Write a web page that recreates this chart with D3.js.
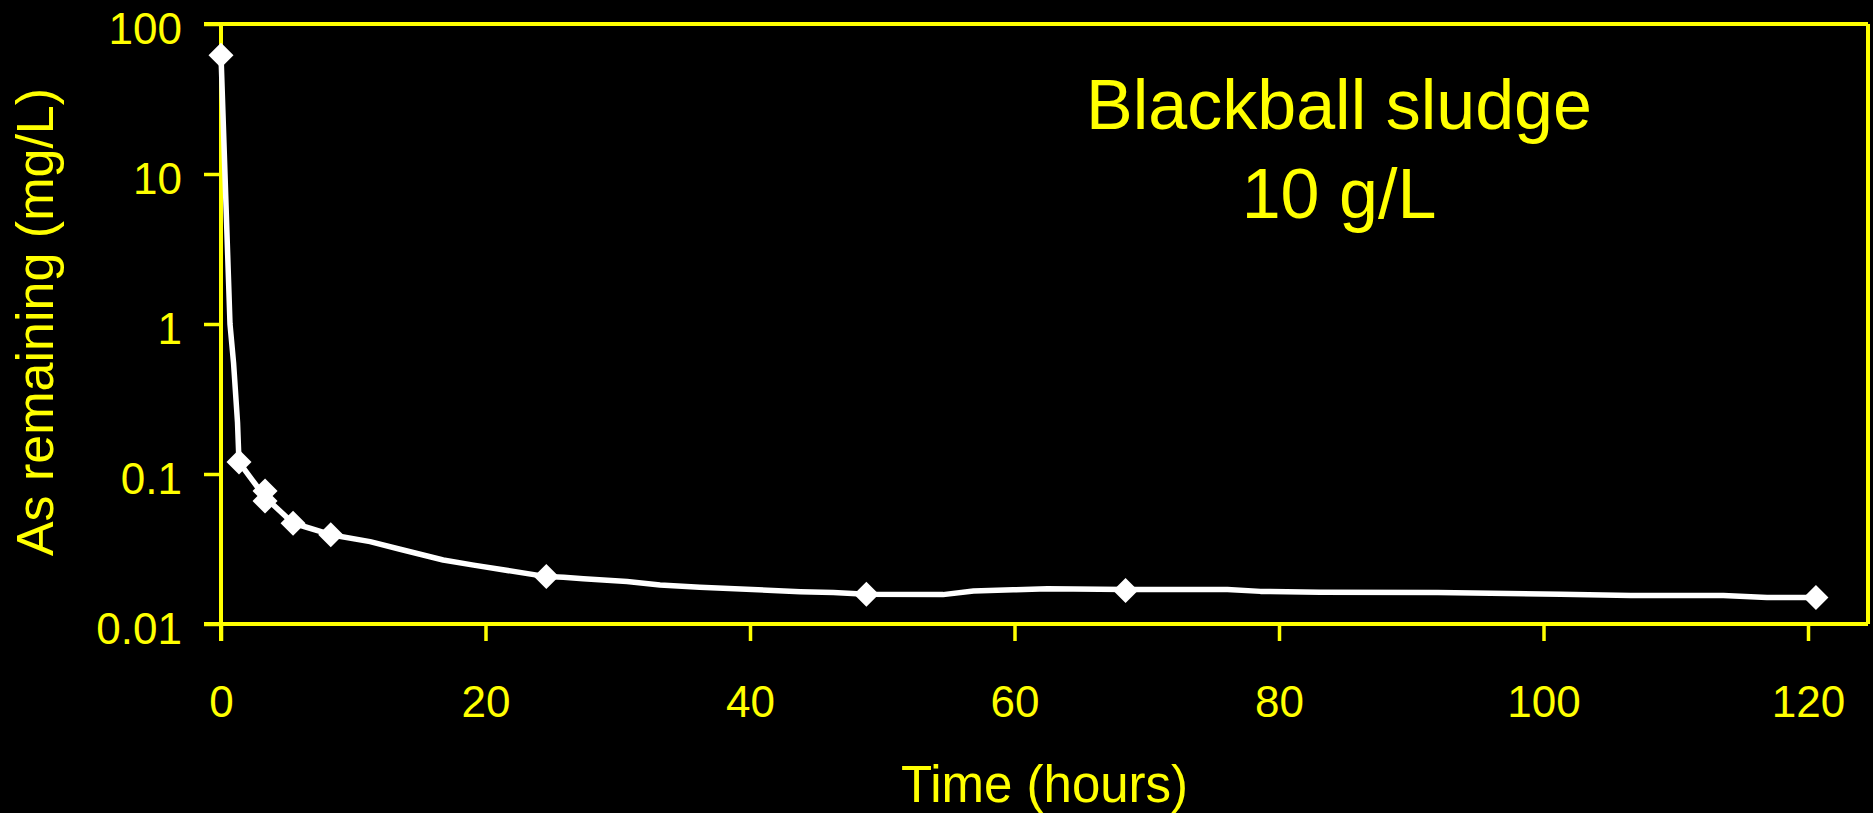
<!DOCTYPE html>
<html>
<head>
<meta charset="utf-8">
<script src="https://cdn.jsdelivr.net/npm/d3@7"></script>
<style>
  html, body { margin: 0; padding: 0; background: #000; }
  svg { display: block; }
  text { font-family: "Liberation Sans", Arial, sans-serif; fill: #ffff00; }
</style>
</head>
<body>
<svg id="chart" width="1873" height="813"></svg>
<script>
// Axis ticks
const hourTicks = [0, 20, 40, 60, 80, 100, 120];
const concTicks = [0.01, 0.1, 1, 10, 100];
const concTickLabels = ["0.01", "0.1", "1", "10", "100"];

// Measured samples (hours, mg/L)
const sampleHours = [0, 1.36, 3.33, 3.33, 5.45, 8.3, 24.6, 48.8, 68.4, 120.6];
const sampleConc  = [62, 0.12, 0.077, 0.066, 0.047, 0.0394, 0.0207, 0.0158, 0.0167, 0.0150];

// Fitted curve through the samples (hours, mg/L)
const curveHours = [0, 0.68, 0.95, 1.25, 1.36, 3.33, 5.45, 6.35, 8.3, 11.27, 13.54, 16.8, 19.1,
  24.6, 25.9, 27.4, 30.7, 33.2, 36.2, 43.8, 46.3, 48.8, 54.6, 56.9, 59.9, 62.5, 68.4,
  76.1, 78.6, 83.1, 92.0, 101.3, 106.6, 113.6, 116.9, 120.6];
const curveConc = [62, 1.0, 0.55, 0.22, 0.12, 0.070, 0.047, 0.0445, 0.0394, 0.0354, 0.0315, 0.0267, 0.0247,
  0.0207, 0.0205, 0.0200, 0.0192, 0.0182, 0.0176, 0.0164, 0.0162, 0.0158, 0.0157, 0.0166, 0.0169, 0.0172, 0.0170,
  0.0170, 0.0165, 0.0163, 0.0162, 0.0158, 0.0155, 0.0155, 0.0150, 0.0150];

const titleLines = ["Blackball sludge", "10 g/L"];

const YELLOW = "#ffff00";
const svg = d3.select("#chart");

// Plot frame
const plotLeft = 221, plotRight = 1868, plotTop = 24, plotBottom = 624, tickLen = 17;
const axisWidth = 4;

const x = d3.scaleLinear().domain([0, 120]).range([plotLeft, 1808]);
const y = d3.scaleLog().domain([0.01, 100]).range([plotBottom, plotTop]);

const g = svg.append("g");

// X axis
const xAxis = d3.axisBottom(x)
  .tickValues(hourTicks)
  .tickSizeInner(tickLen)
  .tickSizeOuter(0)
  .tickPadding(0)
  .tickFormat(d3.format("d"));
const gx = g.append("g").attr("transform", `translate(0,${plotBottom})`).call(xAxis);
gx.select(".domain").remove();
gx.selectAll(".tick line").attr("stroke", YELLOW).attr("stroke-width", 3.5);
gx.selectAll(".tick text")
  .attr("fill", YELLOW)
  .attr("font-size", 44)
  .attr("y", 93)
  .attr("dy", null)
  .attr("font-family", "Liberation Sans, Arial, sans-serif");

// Y axis
const yAxis = d3.axisLeft(y)
  .tickValues(concTicks)
  .tickSizeInner(tickLen)
  .tickSizeOuter(0)
  .tickPadding(0)
  .tickFormat((d, i) => concTickLabels[i]);
const gy = g.append("g").attr("transform", `translate(${plotLeft},0)`).call(yAxis);
gy.select(".domain").remove();
gy.selectAll(".tick line").attr("stroke", YELLOW).attr("stroke-width", 3.5);
gy.selectAll(".tick text")
  .attr("fill", YELLOW)
  .attr("font-size", 44)
  .attr("x", -39)
  .attr("dy", null)
  .attr("y", 19.5)
  .attr("font-family", "Liberation Sans, Arial, sans-serif");

// Frame and axis lines
const frame = g.append("g").attr("stroke", YELLOW).attr("stroke-width", axisWidth).attr("fill", "none");
frame.append("line").attr("x1", plotLeft - tickLen).attr("x2", plotRight).attr("y1", plotTop).attr("y2", plotTop);
frame.append("line").attr("x1", plotRight).attr("x2", plotRight).attr("y1", plotTop).attr("y2", plotBottom);
frame.append("line").attr("x1", plotLeft - tickLen).attr("x2", plotRight).attr("y1", plotBottom).attr("y2", plotBottom);
frame.append("line").attr("x1", plotLeft).attr("x2", plotLeft).attr("y1", plotTop).attr("y2", plotBottom + tickLen);

// Curve
const curve = curveHours.map((h, i) => [h, curveConc[i]]);
const line = d3.line().x(d => x(d[0])).y(d => y(d[1]));
g.append("path")
  .datum(curve)
  .attr("d", line)
  .attr("fill", "none")
  .attr("stroke", "#ffffff")
  .attr("stroke-width", 5.5)
  .attr("stroke-linejoin", "round");

// Diamond markers
const r = 12.5;
const diamond = `M0,${-r}L${r},0L0,${r}L${-r},0Z`;
g.append("g").selectAll("path")
  .data(sampleHours.map((h, i) => [h, sampleConc[i]]))
  .join("path")
  .attr("d", diamond)
  .attr("transform", d => `translate(${x(d[0])},${y(d[1])})`)
  .attr("fill", "#ffffff");

// Axis titles
svg.append("text")
  .attr("x", (plotLeft + plotRight) / 2)
  .attr("y", 802)
  .attr("text-anchor", "middle")
  .attr("font-size", 51)
  .text("Time (hours)");

svg.append("text")
  .attr("transform", "translate(53,322) rotate(-90)")
  .attr("text-anchor", "middle")
  .attr("font-size", 52)
  .text("As remaining (mg/L)");

// Annotation
svg.append("g").selectAll("text")
  .data(titleLines)
  .join("text")
  .attr("x", 1339)
  .attr("y", (d, i) => 129 + i * 89)
  .attr("text-anchor", "middle")
  .attr("font-size", 70)
  .text(d => d);
</script>
</body>
</html>
